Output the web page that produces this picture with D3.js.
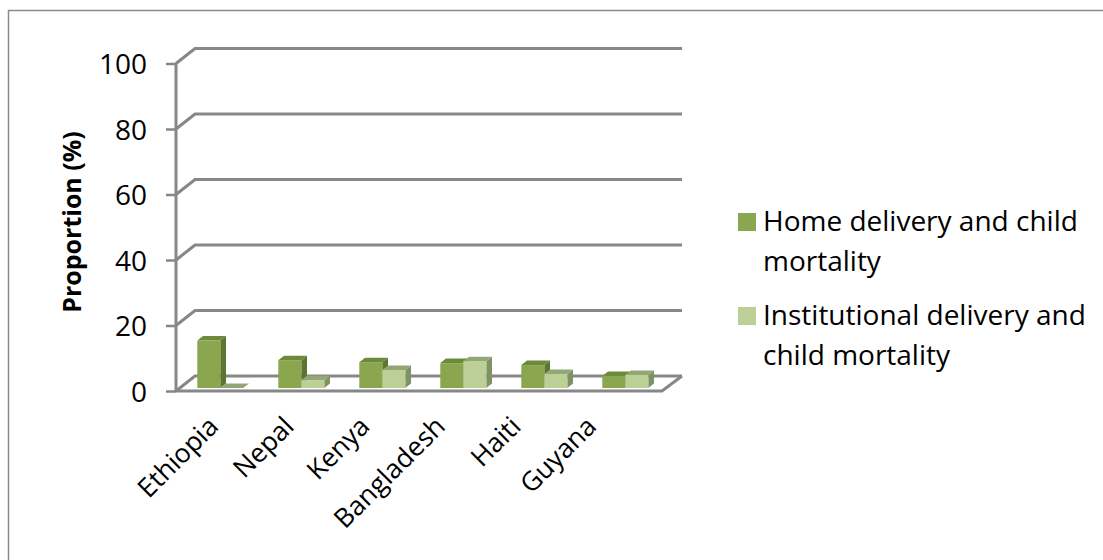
<!DOCTYPE html>
<html>
<head>
<meta charset="utf-8">
<script src="https://cdn.jsdelivr.net/npm/d3@7"></script>
<style>
  body { margin: 0; background: #fff; }
  svg { display: block; font-family: "Open Sans", sans-serif; }
</style>
</head>
<body>
<script>
"use strict";
// chart data
const countries = ["Ethiopia", "Nepal", "Kenya", "Bangladesh", "Haiti", "Guyana"];
const seriesNames = ["Home delivery and child mortality", "Institutional delivery and child mortality"];
const homeValues = [14.5, 8.5, 7.9, 7.6, 7.0, 3.7];
const institutionalValues = [0, 2.4, 5.5, 8.2, 4.3, 4.0];
const yTicks = [0, 20, 40, 60, 80, 100];
const legendLines = [["Home delivery and child", "mortality"], ["Institutional delivery and", "child mortality"]];

const width = 1103, height = 560;
// depth of the 3d box and where the bars sit inside it
const depth = { dx: 19, dy: -15 };
const barFront = 0.2, barBack = 0.5;

const faceColors = [
    { front: "#8aa64e", side: "#5c7631", top: "#6c8a3a" },
    { front: "#bccf97", side: "#7e9262", top: "#93a776" }
];
const gridColor = "#878787";

const svg = d3.select("body").append("svg")
    .attr("width", width)
    .attr("height", height);

// outer frame (runs off the right and bottom edges)
svg.append("rect")
    .attr("x", 8.5).attr("y", 10.5)
    .attr("width", 1200).attr("height", 700)
    .attr("fill", "none")
    .attr("stroke", "#8a8a8a")
    .attr("stroke-width", 1.5);

const x = d3.scaleBand().domain(countries).range([176, 662]);
const xSeries = d3.scaleBand().domain(seriesNames).range([17.5, 63.5]);
const y = d3.scaleLinear().domain([0, 100]).range([391, 63.5]);

// back wall gridlines with the little diagonal back to the axis
const grid = svg.append("g").attr("stroke", gridColor).attr("stroke-width", 3).attr("fill", "none");
yTicks.forEach(t => {
    const yy = y(t);
    grid.append("path")
        .attr("d", `M176,${yy} L${176 + depth.dx},${yy + depth.dy} L${x.range()[1] + depth.dx + 1},${yy + depth.dy}`);
});

// floor
grid.append("path")
    .attr("d", `M176,${y(0)} L662,${y(0)} L${662 + depth.dx + 1},${y(0) + depth.dy}`);

// y axis
const yAxis = d3.axisLeft(y).tickValues(yTicks).tickSize(10).tickPadding(19);
const gy = svg.append("g").attr("transform", "translate(176,0)").call(yAxis);
gy.select(".domain").attr("stroke", gridColor).attr("stroke-width", 3).attr("d", `M0,${y(100)}V${y(0)}`);
gy.selectAll(".tick line").attr("stroke", gridColor).attr("stroke-width", 2.5);
gy.selectAll(".tick text")
    .attr("font-family", "Open Sans, sans-serif")
    .attr("font-size", 28)
    .attr("fill", "#000")
    .attr("dy", "0.36em");

// bars
const series = [homeValues, institutionalValues];
const bars = svg.append("g");
countries.forEach((c, i) => {
    series.forEach((vals, s) => {
        const col = faceColors[s];
        const fx = x(c) + xSeries(seriesNames[s]) + depth.dx * barFront;
        const fy0 = y(0) + depth.dy * barFront;
        const w = xSeries.bandwidth();
        const h = y(0) - y(vals[i]);
        const ddx = depth.dx * (barBack - barFront), ddy = depth.dy * (barBack - barFront);
        const top = fy0 - h;
        bars.append("path")
            .attr("fill", col.side)
            .attr("d", `M${fx + w},${top} L${fx + w + ddx},${top + ddy} L${fx + w + ddx},${fy0 + ddy} L${fx + w},${fy0}Z`);
        bars.append("path")
            .attr("fill", col.top)
            .attr("d", `M${fx},${top} L${fx + ddx},${top + ddy} L${fx + w + ddx},${top + ddy} L${fx + w},${top}Z`);
        if (h > 0.5) {
            bars.append("rect")
                .attr("x", fx).attr("y", top)
                .attr("width", w).attr("height", h)
                .attr("fill", col.front);
        }
    });
});

// category labels, rotated
const xLabel = d3.scalePoint().domain(countries).range([220, 598]);
svg.append("g").selectAll("text")
    .data(countries)
    .join("text")
    .attr("transform", d => `translate(${xLabel(d)},428) rotate(-45)`)
    .attr("text-anchor", "end")
    .attr("font-size", 26.5)
    .text(d => d);

// y axis title
svg.append("text")
    .attr("transform", "translate(81,222) rotate(-90)")
    .attr("text-anchor", "middle")
    .attr("font-size", 25)
    .attr("font-weight", "bold")
    .text("Proportion (%)");

// legend
const legend = svg.append("g");
const legendTops = [213, 307];
legendLines.forEach((lines, s) => {
    legend.append("rect")
        .attr("x", 738).attr("y", legendTops[s])
        .attr("width", 18).attr("height", 18)
        .attr("fill", faceColors[s].front);
    lines.forEach((ln, k) => {
        legend.append("text")
            .attr("x", 763)
            .attr("y", legendTops[s] + 18 + k * 39.5)
            .attr("font-size", 28)
            .text(ln);
    });
});
</script>
</body>
</html>
